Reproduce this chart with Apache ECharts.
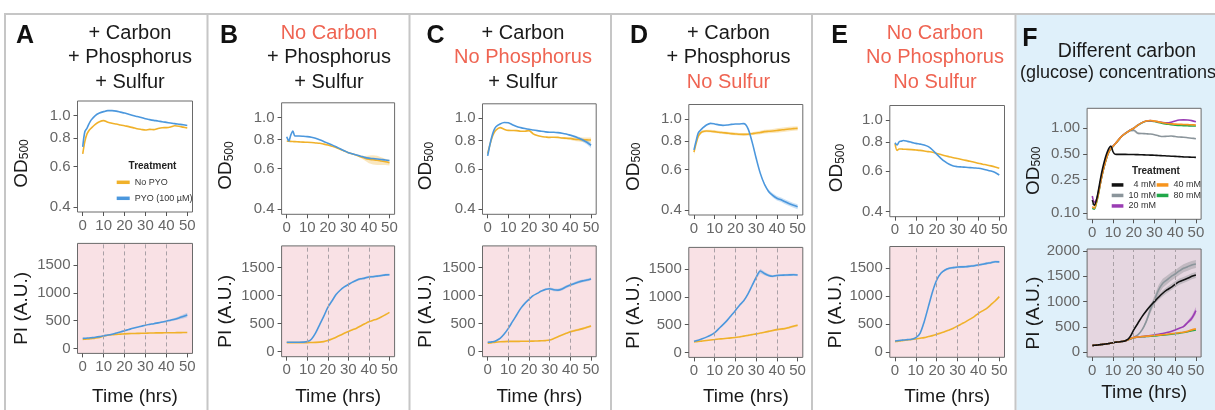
<!DOCTYPE html>
<html><head><meta charset="utf-8">
<script src="https://cdn.jsdelivr.net/npm/echarts@6/dist/echarts.min.js"></script>
<style>html,body{margin:0;padding:0;background:#fff}#c{width:1215px;height:410px}</style>
</head><body><div id="c"></div>
<script>
// ---------------- DATA ----------------
const hoursAE = [0,1,2,3,4,6,8,10,12,14,16,18,20,22,24,26,28,30,32,34,36,38,40,42,44,46,48,50];
const hoursF  = [0,1,2,3,4,5,6,7,8,9,10,11,12,14,16,18,20,22,24,26,28,30,32,34,36,38,40,42,44,46,48,50];

const xTicks = [0,10,20,30,40,50];
const odTicks = [0.4,0.6,0.8,1.0];
const odTicksF = [0.10,0.25,0.50,1.00];
const piTicks = [0,500,1000,1500];
const piTicksF = [0,500,1000,1500,2000];
const dashedHours = [10,20,30,40];

const treatments = ['No PYO','PYO (100 µM)'];
const glucose = ['4 mM','10 mM','20 mM','40 mM','80 mM'];

const titles = [
  ['+ Carbon','+ Phosphorus','+ Sulfur'],
  ['No Carbon','+ Phosphorus','+ Sulfur'],
  ['+ Carbon','No Phosphorus','+ Sulfur'],
  ['+ Carbon','+ Phosphorus','No Sulfur'],
  ['No Carbon','No Phosphorus','No Sulfur'],
  ['Different carbon','(glucose) concentrations']
];
const titleMissing = [[0,0,0],[1,0,0],[0,1,0],[0,0,1],[1,1,1],[0,0]];

// Panel A
const A_od_noPYO = [0.68,0.77,0.83,0.86,0.88,0.915,0.94,0.95,0.935,0.925,0.918,0.91,0.902,0.895,0.886,0.876,0.87,0.865,0.87,0.868,0.878,0.885,0.886,0.892,0.902,0.898,0.89,0.882];
const A_od_PYO   = [0.73,0.85,0.88,0.92,0.955,1.0,1.025,1.04,1.05,1.05,1.045,1.035,1.025,1.012,1.0,0.99,0.98,0.968,0.96,0.953,0.947,0.94,0.934,0.928,0.922,0.917,0.912,0.905];
const A_pi_noPYO = [162,165,168,172,176,185,198,222,236,246,252,257,262,266,268,270,272,274,276,278,279,280,281,282,283,284,285,286];
const A_pi_PYO   = [180,182,185,188,192,200,212,228,240,256,276,296,318,340,362,382,400,418,432,445,460,475,490,508,525,548,575,600];
const A_pi_PYO_sd = [0,0,0,0,0,0,0,0,0,0,0,0,0,0,0,0,0,5,8,10,12,14,15,18,22,28,35,40];

// Panel B
const B_od_noPYO = [0.79,0.788,0.787,0.786,0.785,0.783,0.781,0.78,0.778,0.775,0.772,0.766,0.759,0.75,0.74,0.727,0.715,0.703,0.694,0.685,0.675,0.665,0.658,0.655,0.652,0.647,0.642,0.636];
const B_od_noPYO_sd = [0,0,0,0,0,0,0,0,0,0,0,0,0,0,0,0,0,0,0,0,0.008,0.015,0.025,0.03,0.03,0.025,0.02,0.018];
const B_od_PYO   = [0.825,0.79,0.84,0.873,0.83,0.83,0.828,0.825,0.82,0.812,0.8,0.787,0.773,0.76,0.746,0.731,0.717,0.703,0.695,0.687,0.679,0.671,0.666,0.663,0.66,0.657,0.654,0.65];
const B_pi_noPYO = [162,162,162,162,162,162,162,162,164,166,170,180,198,225,258,292,328,360,390,420,460,498,534,560,585,620,660,702];
const B_pi_PYO   = [168,168,168,168,168,168,170,180,222,330,480,630,790,905,1020,1098,1158,1200,1242,1278,1302,1314,1335,1340,1350,1360,1372,1375];
const B_pi_PYO_sd = [0,0,0,0,0,0,0,0,0,0,0,0,0,0,0,0,0,15,18,20,20,20,20,20,20,20,20,20];

// Panel C
const C_od_noPYO = [0.70,0.76,0.818,0.86,0.888,0.91,0.895,0.885,0.884,0.883,0.878,0.878,0.883,0.855,0.84,0.832,0.828,0.825,0.826,0.825,0.82,0.818,0.815,0.81,0.807,0.805,0.804,0.803];
const C_od_noPYO_sd = [0,0,0,0,0,0,0,0,0,0,0,0,0,0,0,0,0,0,0,0,0.008,0.01,0.012,0.014,0.016,0.018,0.02,0.02];
const C_od_PYO   = [0.684,0.76,0.83,0.885,0.918,0.944,0.958,0.955,0.937,0.92,0.91,0.902,0.895,0.889,0.883,0.877,0.872,0.869,0.868,0.865,0.86,0.853,0.843,0.832,0.818,0.803,0.785,0.762];
const C_od_PYO_sd = [0,0,0,0,0,0,0,0,0,0,0,0,0,0,0,0,0,0,0,0,0,0,0.008,0.01,0.012,0.015,0.018,0.02];
const C_pi_noPYO = [150,155,160,165,170,176,180,183,184,184,185,186,187,189,191,194,198,208,235,265,297,328,357,375,392,412,435,458];
const C_pi_noPYO_sd = [0,0,0,0,0,0,0,0,0,0,0,0,0,0,0,0,0,0,0,0,0,0,20,20,20,20,20,20];
const C_pi_PYO   = [167,170,175,182,196,238,315,417,536,655,774,863,934,1000,1041,1083,1113,1125,1105,1100,1120,1160,1190,1220,1245,1265,1280,1300];
const C_pi_PYO_sd = [0,0,0,0,0,0,0,0,0,0,0,0,0,0,0,0,0,25,25,25,25,25,25,25,25,25,25,25];

// Panel D
const D_od_noPYO = [0.716,0.78,0.837,0.865,0.88,0.886,0.884,0.88,0.875,0.871,0.867,0.863,0.86,0.857,0.856,0.857,0.862,0.868,0.873,0.88,0.883,0.886,0.89,0.895,0.9,0.904,0.907,0.91];
const D_od_noPYO_sd = [0.02,0.015,0.012,0.012,0.012,0.012,0.012,0.012,0.012,0.012,0.012,0.012,0.012,0.012,0.012,0.012,0.012,0.014,0.015,0.016,0.017,0.018,0.02,0.02,0.02,0.02,0.02,0.02];
const D_od_PYO   = [0.732,0.8,0.866,0.89,0.91,0.941,0.957,0.951,0.942,0.938,0.941,0.947,0.95,0.951,0.954,0.91,0.796,0.673,0.578,0.518,0.482,0.463,0.45,0.443,0.434,0.426,0.419,0.413];
const D_od_PYO_sd = [0,0,0,0,0,0,0,0,0,0,0,0,0,0,0,0,0,0,0,0.006,0.008,0.01,0.01,0.01,0.01,0.01,0.01,0.01];
const D_pi_noPYO = [190,193,196,200,205,215,224,232,240,247,254,261,268,280,293,306,320,333,348,362,378,395,410,420,430,450,470,488];
const D_pi_noPYO_sd = [0,0,0,0,0,0,0,0,0,0,0,0,0,0,0,0,0,0,0,0,15,15,18,20,20,20,20,20];
const D_pi_PYO   = [202,210,220,232,245,275,310,357,428,500,577,666,756,850,930,1050,1200,1350,1465,1420,1385,1370,1385,1390,1392,1395,1398,1392];
const D_pi_PYO_sd = [0,0,0,0,0,0,0,0,0,0,0,0,0,0,0,0,20,30,40,30,25,20,20,20,20,20,20,20];

// Panel E
const E_od_noPYO = [0.79,0.738,0.748,0.748,0.747,0.746,0.744,0.741,0.738,0.734,0.729,0.724,0.716,0.708,0.7,0.693,0.686,0.68,0.674,0.668,0.662,0.655,0.649,0.643,0.638,0.632,0.625,0.617];
const E_od_PYO   = [0.797,0.779,0.805,0.81,0.815,0.808,0.8,0.792,0.786,0.779,0.766,0.741,0.71,0.682,0.659,0.642,0.631,0.627,0.625,0.623,0.621,0.619,0.617,0.613,0.607,0.6,0.591,0.577];
const E_pi_noPYO = [190,195,200,205,210,220,230,238,250,262,280,297,321,345,369,398,428,470,508,547,592,637,696,740,785,850,916,994];
const E_pi_PYO   = [202,205,210,214,220,226,232,262,339,547,815,1083,1291,1410,1470,1500,1512,1523,1526,1529,1538,1547,1559,1574,1589,1600,1618,1615];
const E_pi_PYO_sd = [0,0,0,0,0,0,0,0,0,0,0,0,0,0,20,20,20,20,20,20,20,20,20,20,20,20,20,20];

// Panel F (glucose)
const F_od_4  = [0.143,0.125,0.143,0.188,0.258,0.339,0.424,0.508,0.582,0.62,0.53,0.495,0.494,0.493,0.493,0.492,0.491,0.49,0.488,0.486,0.484,0.482,0.479,0.476,0.473,0.47,0.467,0.464,0.461,0.459,0.457,0.455];
const F_od_10 = [0.13,0.125,0.14,0.175,0.235,0.305,0.38,0.46,0.53,0.58,0.615,0.655,0.697,0.798,0.873,0.94,0.95,0.875,0.868,0.862,0.855,0.84,0.815,0.8,0.805,0.81,0.8,0.79,0.785,0.775,0.765,0.755];
const F_od_10_sd = [0,0,0,0,0,0,0,0,0,0,0,0,0,0,0.01,0.03,0.04,0.03,0.01,0,0,0,0,0,0,0,0,0,0,0,0,0];
const F_od_20 = [0.16,0.135,0.145,0.178,0.235,0.305,0.38,0.46,0.53,0.58,0.615,0.655,0.697,0.798,0.873,0.94,1.0,1.09,1.166,1.22,1.23,1.21,1.19,1.17,1.16,1.18,1.22,1.25,1.255,1.25,1.23,1.19];
const F_od_40 = [0.12,0.115,0.135,0.172,0.232,0.302,0.378,0.458,0.528,0.578,0.615,0.655,0.697,0.798,0.873,0.94,1.0,1.09,1.166,1.22,1.235,1.215,1.19,1.16,1.14,1.13,1.12,1.115,1.11,1.105,1.1,1.095];
const F_od_80 = [0.115,0.112,0.132,0.17,0.23,0.3,0.375,0.455,0.525,0.575,0.612,0.652,0.695,0.795,0.87,0.938,1.0,1.085,1.16,1.21,1.22,1.2,1.17,1.14,1.12,1.1,1.085,1.08,1.075,1.07,1.065,1.065];
const F_pi_4  = [132,136,140,145,150,155,160,165,172,180,188,195,200,210,225,290,441,572,704,816,915,1000,1086,1165,1230,1283,1342,1395,1428,1461,1500,1527];
const F_pi_4_sd = [0,0,0,0,0,0,0,0,0,0,0,0,0,0,0,0,0,0,0,30,40,50,55,60,60,60,60,60,60,60,60,60];
const F_pi_10 = [132,136,140,145,150,155,160,165,172,180,188,195,200,210,225,255,296,342,441,605,836,1033,1230,1362,1428,1494,1546,1606,1658,1691,1724,1744];
const F_pi_10_sd = [0,0,0,0,0,0,0,0,0,0,0,0,0,0,0,0,0,0,0,40,70,90,100,90,85,80,80,80,80,80,80,80];
const F_pi_20 = [132,136,140,145,150,155,160,165,172,180,188,195,200,210,225,260,290,300,309,318,330,342,355,370,388,410,441,474,507,586,671,823];
const F_pi_20_sd = [0,0,0,0,0,0,0,0,0,0,0,0,0,0,0,0,0,0,0,0,0,0,0,0,0,0,0,0,20,30,50,70];
const F_pi_40 = [132,136,140,145,150,155,160,165,172,180,188,195,200,210,225,260,290,300,309,315,322,329,338,346,355,365,375,385,395,415,441,461];
const F_pi_80 = [132,136,140,145,150,155,160,165,172,180,188,195,200,210,225,258,286,296,304,310,316,322,330,338,346,355,365,375,388,405,425,441];

// ---------------- STYLE / LAYOUT ----------------
const FONT = "'Liberation Sans', Arial, Helvetica, sans-serif";
const C_NO = '#f0b12a', C_PYO = '#4b97dd';
const RED = '#ef6452', INK = '#1a1a1a';
const F_COLORS = {'4 mM':'#111111','10 mM':'#8b959b','20 mM':'#9a3db3','40 mM':'#f7941d','80 mM':'#21a84a'};
const layout = [
  {letter:'A', lx:25,   ly:36, tx:130,   od:[77.5,101,115,111],    pi:[77.5,243.4,115,110],    nameX:21,    timeY:397},
  {letter:'B', lx:229,  ly:36, tx:329,   od:[281.6,102.8,113,111.5], pi:[281.6,245.9,113,110.8], nameX:225.7, timeY:397},
  {letter:'C', lx:435.5,ly:36, tx:523,   od:[482.5,103.8,113.7,110.5], pi:[482.5,245.9,113.7,110.8], nameX:425.7, timeY:397},
  {letter:'D', lx:639,  ly:36, tx:728.5, od:[688.8,104.5,114,110.5], pi:[688.8,247.4,114,110],   nameX:633,   timeY:397},
  {letter:'E', lx:839.7,ly:36, tx:935,   od:[889.8,105.5,114.7,111.2], pi:[889.8,246.5,114.7,110.8], nameX:836.7, timeY:397},
  {letter:'F', lx:1030, ly:39, tx:1127,  od:[1087.1,108.3,114,111], pi:[1087.1,249,114,108],     nameX:1033,  timeY:393}
];
const odRange = [0.38, 1.157], odRangeF = [0.0851, 1.718];
const piRange = [-90, 1890], piRangeF = [-95, 2040];

const panelSeries = [
  {od:[[treatments[0],A_od_noPYO,null],[treatments[1],A_od_PYO,null]], pi:[[treatments[0],A_pi_noPYO,null],[treatments[1],A_pi_PYO,A_pi_PYO_sd]]},
  {od:[[treatments[0],B_od_noPYO,B_od_noPYO_sd],[treatments[1],B_od_PYO,null]], pi:[[treatments[0],B_pi_noPYO,null],[treatments[1],B_pi_PYO,B_pi_PYO_sd]]},
  {od:[[treatments[0],C_od_noPYO,C_od_noPYO_sd],[treatments[1],C_od_PYO,C_od_PYO_sd]], pi:[[treatments[0],C_pi_noPYO,C_pi_noPYO_sd],[treatments[1],C_pi_PYO,C_pi_PYO_sd]]},
  {od:[[treatments[0],D_od_noPYO,D_od_noPYO_sd],[treatments[1],D_od_PYO,D_od_PYO_sd]], pi:[[treatments[0],D_pi_noPYO,D_pi_noPYO_sd],[treatments[1],D_pi_PYO,D_pi_PYO_sd]]},
  {od:[[treatments[0],E_od_noPYO,null],[treatments[1],E_od_PYO,null]], pi:[[treatments[0],E_pi_noPYO,null],[treatments[1],E_pi_PYO,E_pi_PYO_sd]]},
  {od:[['10 mM',F_od_10,F_od_10_sd],['80 mM',F_od_80,null],['20 mM',F_od_20,null],['40 mM',F_od_40,null],['4 mM',F_od_4,null]],
   pi:[['10 mM',F_pi_10,F_pi_10_sd],['80 mM',F_pi_80,null],['20 mM',F_pi_20,F_pi_20_sd],['40 mM',F_pi_40,null],['4 mM',F_pi_4,F_pi_4_sd]]}
];

function colorOf(name){ return name===treatments[0]?C_NO:(name===treatments[1]?C_PYO:F_COLORS[name]); }
function bandColorOf(name){ return (name==='4 mM'||name==='10 mM') ? '#7d8388' : colorOf(name); }

const grids=[], xAxes=[], yAxes=[], series=[];
const ident = v => v;

layout.forEach((L, p) => {
  const isF = p === 5;
  ['od','pi'].forEach((kind, k) => {
    const gi = p*2 + k;
    const r = L[kind];
    const isOD = kind === 'od';
    grids.push({left:r[0], top:r[1], width:r[2], height:r[3], show:true,
      backgroundColor: isOD ? '#ffffff' : (isF ? '#e5d6e0' : '#f9e1e5'),
      borderColor:'#6a6a6a', borderWidth:1});
    xAxes.push({type:'value', gridIndex:gi, min:-2.5, max:52.5, position:'bottom',
      axisLine:{show:false, onZero:false}, splitLine:{show:false},
      axisTick:{show:true, length:4, customValues:xTicks, lineStyle:{color:'#555'}},
      axisLabel:{customValues:xTicks, color:'#666', fontSize:15, margin:6, fontFamily:FONT},
      name: isOD ? '' : 'Time (hrs)', nameLocation:'middle',
      nameGap: L.timeY - (r[1]+r[3]) - 10,
      nameTextStyle:{color:INK, fontSize:19, fontFamily:FONT}});
    const tf = isOD ? Math.log10 : ident;
    const ticks = isOD ? (isF?odTicksF:odTicks) : (isF?piTicksF:piTicks);
    const rng = isOD ? (isF?odRangeF:odRange) : (isF?piRangeF:piRange);
    const dec = isF ? 2 : 1;
    yAxes.push({type:'value', gridIndex:gi, min:tf(rng[0]), max:tf(rng[1]), position:'left',
      axisLine:{show:false, onZero:false}, splitLine:{show:false},
      axisTick:{show:true, length:4, customValues:ticks.map(v=>tf(v)), lineStyle:{color:'#555'}},
      axisLabel:{customValues:ticks.map(v=>tf(v)), color:'#666', fontSize:15, margin:7, fontFamily:FONT,
        formatter: isOD ? (v => Math.pow(10, v).toFixed(dec)) : (v => String(Math.round(v)))},
      name: isOD ? '{m|OD}{s|500}' : 'PI (A.U.)', nameLocation:'middle', nameRotate:90,
      nameGap: r[0] - L.nameX - 10,
      nameTextStyle:{color:INK, fontSize:19, fontFamily:FONT, padding: isOD ? [0,14,0,0] : [0,20,0,0],
        rich:{m:{fontSize:19, fontFamily:FONT, color:INK, lineHeight:22, verticalAlign:'bottom'},
              s:{fontSize:12, fontFamily:FONT, color:INK, lineHeight:12, verticalAlign:'bottom'}}}});
    const hrs = isF ? hoursF : hoursAE;
    panelSeries[p][kind].forEach((c, ci) => {
      const [name, vals, sd] = c;
      const col = colorOf(name);
      if (sd) {
        // ribbon: [hour, lower, upper] drawn as one polygon through the axes' scales
        const rows = hrs.map((t,i)=>[t, tf(vals[i]-sd[i]), tf(vals[i]+sd[i])]);
        const fill = bandColorOf(name);
        const op = isF ? 0.35 : 0.3;
        series.push({type:'custom', xAxisIndex:gi, yAxisIndex:gi, silent:true, z:1, clip:true,
          encode:{x:0, y:[1,2]}, data: rows,
          renderItem: (params, api) => {
            if (params.dataIndex !== 0) return null;
            const up = rows.map(rw => api.coord([rw[0], rw[2]]));
            const lo = rows.map(rw => api.coord([rw[0], rw[1]])).reverse();
            return {type:'polygon', shape:{points: up.concat(lo)}, style:{fill, opacity: op}};
          }});
      }
      const s = {type:'line', name, xAxisIndex:gi, yAxisIndex:gi,
        data: hrs.map((t,i)=>[t, tf(vals[i])]), symbol:'none', showSymbol:false, smooth:0.3,
        lineStyle:{width:1.6, color:col}, itemStyle:{color:col}, z: name==='4 mM'?4:3};
      if (!isOD && ci === 0) {
        s.markLine = {silent:true, symbol:'none', label:{show:false}, animation:false,
          lineStyle:{type:[4,3], color:'#a9a0a6', width:1}, emphasis:{disabled:true},
          data: dashedHours.map(h => ({xAxis:h}))};
      }
      series.push(s);
    });
  });
});

// graphics: panel frame, F background, titles, letters
const graphic = [];
graphic.push({type:'rect', z:-10, silent:true, shape:{x:1016.5, y:15, width:198.5, height:395}, style:{fill:'#dff0fa'}});
const frameStyle = {stroke:'#c6c6c6', lineWidth:2};
graphic.push({type:'line', silent:true, shape:{x1:4, y1:14, x2:1215, y2:14}, style:frameStyle});
[5, 207.5, 409.5, 611, 812, 1015.5].forEach(x => graphic.push({type:'line', silent:true, shape:{x1:x, y1:14, x2:x, y2:410}, style:frameStyle}));
layout.forEach((L, p) => {
  graphic.push({type:'text', silent:true, z:100, x:L.lx, y:L.ly,
    style:{text:L.letter, fill:'#111', font:'bold 25px '+FONT, textAlign:'center', textVerticalAlign:'middle'}});
  const isF = p === 5;
  titles[p].forEach((t, j) => {
    graphic.push({type:'text', silent:true, z:100,
      x: isF ? (j === 0 ? 1127 : 1118) : L.tx,
      y: isF ? (51.7 + j*21.6) : (33 + j*24.5),
      style:{text:t, fill: titleMissing[p][j] ? RED : INK,
        font:(isF ? (j === 0 ? '19.5px ' : '18px ') : '20px ')+FONT, textAlign:'center', textVerticalAlign:'middle'}});
  });
});
graphic.push({type:'text', silent:true, z:100, x:152.5, y:166.7, style:{text:'Treatment', fill:'#222', font:'bold 10px '+FONT, textAlign:'center', textVerticalAlign:'middle'}});
graphic.push({type:'text', silent:true, z:100, x:1156, y:171.7, style:{text:'Treatment', fill:'#222', font:'bold 10px '+FONT, textAlign:'center', textVerticalAlign:'middle'}});

const legendText = {fontSize:9, color:'#333', lineHeight:12, fontFamily:FONT};
const legend = [
  {orient:'vertical', left:116.7, top:176.3, padding:0, itemWidth:13, itemHeight:3.5, itemGap:4, icon:'rect',
   data:treatments, textStyle:legendText, selectedMode:false},
  {orient:'vertical', left:1111.7, top:179.7, padding:0, itemWidth:11.7, itemHeight:3.5, itemGap:0, icon:'rect',
   data:glucose.slice(0,3), formatter: n => n === '4 mM' ? '  ' + n : n,
   textStyle:Object.assign({}, legendText, {lineHeight:10.5}), selectedMode:false},
  {orient:'vertical', left:1156.7, top:179.7, padding:0, itemWidth:11.7, itemHeight:3.5, itemGap:0, icon:'rect',
   data:glucose.slice(3), textStyle:Object.assign({}, legendText, {lineHeight:10.5}), selectedMode:false}
];

const chart = echarts.init(document.getElementById('c'), null, {renderer:'canvas'});
chart.setOption({animation:false, backgroundColor:'#ffffff', textStyle:{fontFamily:FONT},
  grid:grids, xAxis:xAxes, yAxis:yAxes, series, graphic, legend});
</script></body></html>
